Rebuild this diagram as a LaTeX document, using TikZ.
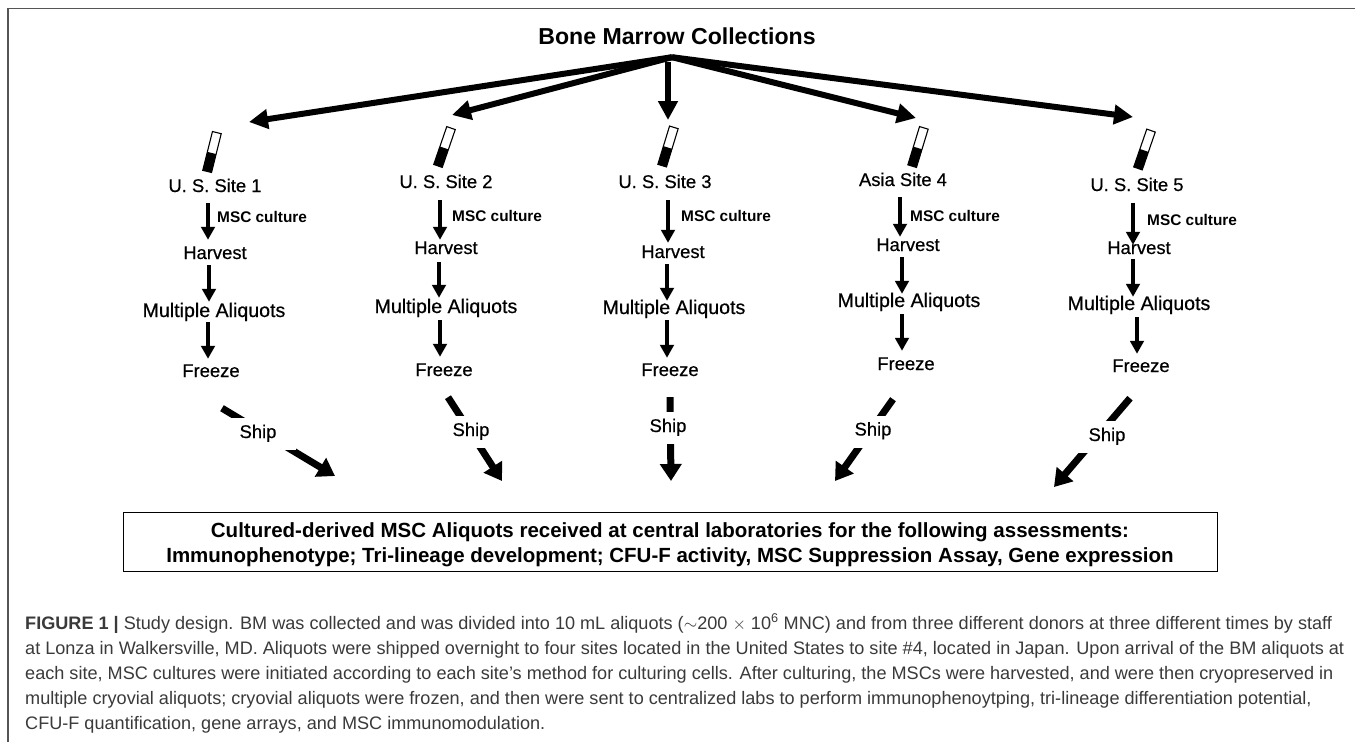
\documentclass[tikz,border=0pt]{standalone}
\usepackage{fontspec}
\setmainfont{Liberation Sans}
\newfontfamily\labfont{Liberation Sans}[FakeBold=0.5]
\usetikzlibrary{arrows.meta,calc}
\definecolor{captxt}{HTML}{3A3A3A}
\definecolor{framec}{HTML}{555555}
\newcommand{\tubefill}[3]{\fill[black,rotate around={#3:(#1,#2)}] (#1-20,#2-4.5) rectangle (#1-1,#2+4.5);}
\tikzset{
  x=1pt,y=-1pt,
  lab/.style={inner sep=0pt,minimum height=16pt,text height=12pt,text depth=4pt,font=\labfont\fontsize{18.4}{20}\selectfont,text=black},
  mult/.style={lab,font=\labfont\fontsize{19.6}{20}\selectfont},
  cult/.style={anchor=west,inner sep=0pt,font=\bfseries\fontsize{15.4}{16}\selectfont},
  flow/.style={line width=4.6pt,-{Triangle[length=13pt,width=13.5pt]}},
  spread/.style={line width=6pt,-{Triangle[length=19pt,width=19pt]}},
  ship/.style={line width=7pt,-{Triangle[length=17pt,width=21pt]}},
  shiplab/.style={lab,fill=white,minimum width=76pt,minimum height=32pt},
  tube/.style={draw=black,line width=1.1pt,fill=white,inner sep=0pt,minimum width=40pt,minimum height=9pt},
  caption/.style={anchor=base west,inner sep=0pt,text=captxt,font=\fontsize{18.1}{20}\selectfont},
  boxtext/.style={anchor=base,inner sep=0pt,font=\bfseries\fontsize{20.5}{22}\selectfont},
}
\begin{document}
\begin{tikzpicture}
\useasboundingbox (0,0) rectangle (1355,742);
\fill[white] (0,0) rectangle (1355,742);
\draw[framec,line width=1.3pt] (8,742) -- (8,8.5) -- (1355,8.5);

\node[inner sep=0pt,minimum height=24pt,font=\bfseries\fontsize{23.1}{24}\selectfont] (title) at (677,36) {Bone Marrow Collections};

\node[tube,rotate=76] (t1) at (212,152) {}; \tubefill{212}{152}{76}
\node[tube,rotate=71] (t2) at (444.5,147) {}; \tubefill{444.5}{147}{71}
\node[tube,rotate=73] (t3) at (668,146.5) {}; \tubefill{668}{146.5}{73}
\node[tube,rotate=73] (t4) at (918,147) {}; \tubefill{918}{147}{73}
\node[tube,rotate=71] (t5) at (1144.5,149.5) {}; \tubefill{1144.5}{149.5}{71}

\coordinate (apex) at ($(title.south)+(-5,9)$);
\coordinate (e1) at (249,122);
\coordinate (e2) at (452,115);
\coordinate (e3) at (668,120);
\coordinate (e4) at (916,118);
\coordinate (e5) at (1133,117);
\draw[spread] (apex) -- (e1);
\draw[spread] (apex) -- (e2);
\draw[spread] ($(title.south)+(-9,14)$) -- (e3);
\draw[spread] (apex) -- (e4);
\draw[spread] (apex) -- (e5);

% Site 1
\node[lab] (u1) at (215,188) {U. S. Site 1};
\node[cult] (c1) at (217,217) {MSC culture};
\node[lab] (h1) at (215,255) {Harvest};
\node[mult] (m1) at (214,313) {Multiple Aliquots};
\node[lab] (f1) at (211,373) {Freeze};
\draw[flow] ($(u1.south)+(-7,7)$) -- ($(h1.north)+(-7,-7)$);
\draw[flow] ($(h1.south)+(-6,2)$) -- ($(m1.north)+(-5,-3)$);
\draw[flow] ($(m1.south)+(-6,1)$) -- ($(f1.north)+(-3,-6)$);
% Site 2
\node[lab] (u2) at (446,184) {U. S. Site 2};
\node[cult] (c2) at (452,216) {MSC culture};
\node[lab] (h2) at (446,250) {Harvest};
\node[mult] (m2) at (446,309) {Multiple Aliquots};
\node[lab] (f2) at (444,372) {Freeze};
\draw[flow] ($(u2.south)+(-6,8)$) -- ($(h2.north)+(-6,-2)$);
\draw[flow] ($(h2.south)+(-7,4)$) -- ($(m2.north)+(-7,-3)$);
\draw[flow] ($(m2.south)+(-6,3)$) -- ($(f2.north)+(-4,-7)$);
% Site 3
\node[lab] (u3) at (665,184) {U. S. Site 3};
\node[cult] (c3) at (681,216) {MSC culture};
\node[lab] (h3) at (673,254) {Harvest};
\node[mult] (m3) at (674,310) {Multiple Aliquots};
\node[lab] (f3) at (670,372) {Freeze};
\draw[flow] ($(u3.south)+(3,8)$) -- ($(h3.north)+(-5,-3)$);
\draw[flow] ($(h3.south)+(-6,2)$) -- ($(m3.north)+(-7,-1)$);
\draw[flow] ($(m3.south)+(-7,2)$) -- ($(f3.north)+(-3,-6)$);
% Site 4
\node[lab] (u4) at (903,182) {Asia Site 4};
\node[cult] (c4) at (910,216) {MSC culture};
\node[lab] (h4) at (908,247) {Harvest};
\node[mult] (m4) at (909,303) {Multiple Aliquots};
\node[lab] (f4) at (906,366) {Freeze};
\draw[flow] ($(u4.south)+(-3,7)$) -- ($(h4.north)+(-8,-2)$);
\draw[flow] ($(h4.south)+(-6,2)$) -- ($(m4.north)+(-7,-1)$);
\draw[flow] ($(m4.south)+(-7,3)$) -- ($(f4.north)+(-4,-7)$);
% Site 5
\node[lab] (u5) at (1137,187) {U. S. Site 5};
\node[cult] (c5) at (1147,220) {MSC culture};
\node[lab] (h5) at (1139,250) {Harvest};
\node[mult] (m5) at (1139,306) {Multiple Aliquots};
\node[lab] (f5) at (1141,368) {Freeze};
\draw[flow] ($(u5.south)+(-4,8)$) -- ($(h5.north)+(-6,3)$);
\draw[flow] ($(h5.south)+(-6,1)$) -- ($(m5.north)+(-6,-1)$);
\draw[flow] ($(m5.south)+(-2,3)$) -- ($(f5.north)+(-4,-6)$);

% Ship arrows
\coordinate (d1) at (335,476);
\coordinate (d2) at (502,481);
\coordinate (d3) at (671,481);
\coordinate (d4) at (835,481);
\coordinate (d5) at (1054,487);
\draw[ship] ($(f1.south)+(11,27)$) -- (d1);
\draw[ship] ($(f2.south)+(4,17)$) -- (d2);
\draw[ship] ($(f3.south)+(0,17)$) -- (d3);
\draw[ship] ($(f4.south)+(-13,25)$) -- (d4);
\draw[ship] ($(f5.south)+(-11,22)$) -- (d5);
\node[shiplab] (s1) at (258,434) {Ship};
\node[shiplab] (s2) at (471,432) {Ship};
\node[shiplab] (s3) at (668,428) {Ship};
\node[shiplab] (s4) at (873,431.5) {Ship};
\node[shiplab] (s5) at (1107,437) {Ship};

\node[draw=black,line width=1.2pt,inner sep=0pt,minimum width=1094pt,minimum height=59pt] (box) at (670.5,542) {};
\node[boxtext] (b1) at (670,537) {Cultured-derived MSC Aliquots received at central laboratories for the following assessments:};
\node[boxtext] (b2) at (670,562) {Immunophenotype; Tri-lineage development; CFU-F activity, MSC Suppression Assay, Gene expression};

\node[caption] (l1) at (25,629) {\textbf{FIGURE 1 |} Study design. BM was collected and was divided into 10 mL aliquots ($\sim$200 $\times$ 10\textsuperscript{6} MNC) and from three different donors at three different times by staff};
\node[caption] (l2) at (25,654) {at Lonza in Walkersville, MD. Aliquots were shipped overnight to four sites located in the United States to site \#4, located in Japan. Upon arrival of the BM aliquots at};
\node[caption] (l3) at (25,679) {each site, MSC cultures were initiated according to each site’s method for culturing cells. After culturing, the MSCs were harvested, and were then cryopreserved in};
\node[caption] (l4) at (25,704) {multiple cryovial aliquots; cryovial aliquots were frozen, and then were sent to centralized labs to perform immunophenoytping, tri-lineage differentiation potential,};
\node[caption] (l5) at (25,729) {CFU-F quantification, gene arrays, and MSC immunomodulation.};
\end{tikzpicture}
\end{document}
